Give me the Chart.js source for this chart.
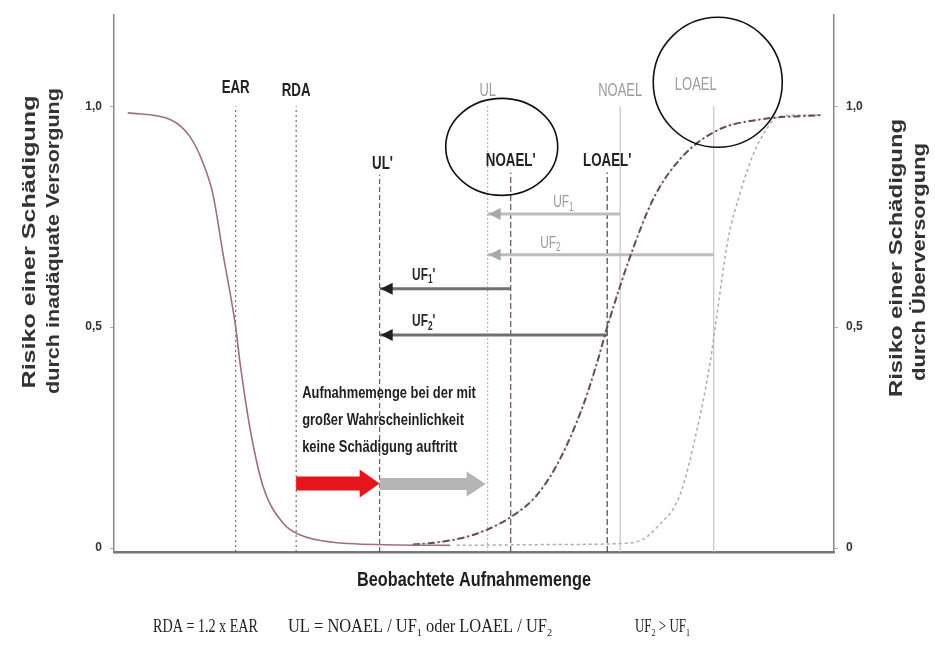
<!DOCTYPE html>
<html>
<head>
<meta charset="utf-8">
<script src="https://cdn.jsdelivr.net/npm/chart.js@4.4.0/dist/chart.umd.min.js"></script>
<style>
html,body{margin:0;padding:0;background:#fff;}
canvas{display:block;}
</style>
</head>
<body>
<canvas id="c" width="935" height="652"></canvas>
<script>
// ---------- DATA ----------
// risk curve for inadequate supply (solid)
const xDeficit    = [1.9, 7.8, 10.6, 12.4, 13.75, 15.1, 16.9, 17.5, 18.9, 20.7, 23.5, 25.8, 30.4, 39.7, 46.7];
const riskDeficit = [0.985, 0.97, 0.93, 0.87, 0.80, 0.67, 0.50, 0.42, 0.27, 0.14, 0.056, 0.03, 0.013, 0.007, 0.006];
// risk curve for oversupply, shifted (dash-dot)
const xAdjusted    = [41.5, 44.5, 47.6, 50.8, 55.1, 58.75, 61.9, 65.1, 67.1, 68.5, 71.7, 74.9, 78.6, 83.75, 89.7, 98.3];
const riskAdjusted = [0.008, 0.012, 0.02, 0.035, 0.07, 0.12, 0.20, 0.32, 0.42, 0.50, 0.66, 0.79, 0.88, 0.945, 0.97, 0.98];
// risk curve for oversupply (light dotted)
const xExcess    = [47.6, 61.9, 69.9, 73.5, 75.4, 78.6, 81.0, 82.8, 83.5, 85.3, 86.9, 88.75, 90.7, 92.1, 95.3, 98.3];
const riskExcess = [0.006, 0.008, 0.01, 0.02, 0.047, 0.12, 0.27, 0.42, 0.50, 0.70, 0.80, 0.89, 0.95, 0.975, 0.98, 0.98];
// reference levels (vertical lines)
const markerNames = ['EAR', 'RDA', "UL'", 'UL', "NOAEL'", "LOAEL'", 'NOAEL', 'LOAEL'];
const markerX     = [16.9, 25.3, 36.9, 51.9, 55.1, 68.5, 70.3, 83.3];
const markerTop   = [1.0, 1.0, 0.845, 1.0, 0.85, 0.85, 1.0, 1.0];
const markerLabelX = [16.9, 25.3, 37.3, 51.9, 55.1, 68.5, 70.3, 80.8];
const markerLabelY = [1.031, 1.022, 0.857, 1.022, 0.865, 0.865, 1.022, 1.036];
// uncertainty factor arrows
const ufNames  = ['UF_1', 'UF_2', "UF_1'", "UF_2'"];
const ufFrom   = [70.3, 83.3, 55.1, 68.5];
const ufTo     = [51.9, 51.9, 36.9, 36.9];
const ufLevel  = [0.756, 0.664, 0.587, 0.482];
const ufLabelX = [61.0, 59.2, 41.4, 41.4];
// y-axis ticks
const yTicks      = [0, 0.5, 1.0];
const yTickLabels = ['0', '0,5', '1,0'];
// band arrows (safe intake range)
const bandLevel = 0.146;
const bandRed   = [25.3, 36.9];
const bandGrey  = [36.9, 51.9];
// texts
const bandText = ['Aufnahmemenge bei der mit', 'großer Wahrscheinlichkeit', 'keine Schädigung auftritt'];
const leftTitle  = ['Risiko einer Schädigung', 'durch inadäquate Versorgung'];
const rightTitle = ['Risiko einer Schädigung', 'durch Überversorgung'];
const xTitle = 'Beobachtete Aufnahmemenge';
const formulas = ['RDA = 1.2 x EAR', 'UL = NOAEL / UF_1 oder LOAEL / UF_2', 'UF_2 > UF_1'];

// ---------- STYLE ----------
const SANS = '"Liberation Sans", Arial, sans-serif';
const SERIF = '"Liberation Serif", "Times New Roman", serif';
const markerStyle = {
  'EAR':    {color:'#555', dash:[2,3], width:1, label:'dark'},
  'RDA':    {color:'#555', dash:[2,3], width:1, label:'dark'},
  "UL'":    {color:'#444', dash:[5,3], width:1, label:'dark'},
  'UL':     {color:'#aaa', dash:[2,2], width:1, label:'grey'},
  "NOAEL'": {color:'#6e4a50', dash:[6,3], width:1.2, label:'dark'},
  "LOAEL'": {color:'#444', dash:[6,3], width:1.2, label:'dark'},
  'NOAEL':  {color:'#bbb', dash:[], width:1, label:'grey'},
  'LOAEL':  {color:'#bbb', dash:[], width:1, label:'grey'}
};
const ufStyle = [
  {line:'#bdbdbd', head:'#a8a8a8', text:'#9a9a9a'},
  {line:'#bdbdbd', head:'#a8a8a8', text:'#9a9a9a'},
  {line:'#707070', head:'#1e1e1e', text:'#2a2a2a'},
  {line:'#707070', head:'#1e1e1e', text:'#2a2a2a'}
];
const circles = [
  {anchor:"NOAEL'", dx:-9, dy:-19, rx:56, ry:48.5},
  {anchor:'LOAEL', dx:22, dy:-8, rx:64.5, ry:65}
];

// ---------- helpers ----------
function parseRich(str){
  const segs=[]; let buf='';
  for(let i=0;i<str.length;i++){
    if(str[i]==='_' && i+1<str.length){ if(buf){segs.push({t:buf});buf='';} segs.push({t:str[i+1],sub:true}); i++; }
    else buf+=str[i];
  }
  if(buf) segs.push({t:buf});
  return segs;
}
function drawRich(ctx, str, x, y, o){
  const size=o.size||14, weight=o.weight||'normal', fam=o.family||SANS;
  const subR = o.subRatio||0.62;
  const segs=parseRich(str);
  ctx.save();
  let total=0;
  segs.forEach(s=>{
    ctx.font = `${weight} ${s.sub?size*subR:size}px ${fam}`;
    s.w = ctx.measureText(s.t).width; total+=s.w;
  });
  const sx = o.width ? o.width/total : (o.sx||1);
  const w = total*sx;
  let x0 = o.align==='center' ? -w/2 : o.align==='right' ? -w : 0;
  ctx.translate(x, y);
  if(o.rotate) ctx.rotate(o.rotate);
  ctx.translate(x0, 0);
  ctx.scale(sx, 1);
  ctx.fillStyle = o.color||'#222';
  ctx.textAlign='left';
  ctx.textBaseline = o.baseline||'alphabetic';
  let cx=0;
  segs.forEach(s=>{
    ctx.font = `${weight} ${s.sub?size*subR:size}px ${fam}`;
    ctx.fillText(s.t, cx, s.sub? size*0.22 : 0);
    cx+=s.w;
  });
  ctx.restore();
  return w;
}
function blockArrow(ctx, x0, x1, yc, shaftH, headH, headL, color){
  ctx.save();
  ctx.fillStyle=color;
  ctx.beginPath();
  ctx.moveTo(x0, yc-shaftH/2);
  ctx.lineTo(x1-headL, yc-shaftH/2);
  ctx.lineTo(x1-headL, yc-headH/2);
  ctx.lineTo(x1, yc);
  ctx.lineTo(x1-headL, yc+headH/2);
  ctx.lineTo(x1-headL, yc+shaftH/2);
  ctx.lineTo(x0, yc+shaftH/2);
  ctx.closePath();
  ctx.fill();
  ctx.restore();
}

// ---------- datasets ----------
const pts = (xs, ys) => xs.map((x,i)=>({x, y:ys[i]}));
const datasets = [
  {label:'deficit', data:pts(xDeficit, riskDeficit), borderColor:'#a0707a', borderWidth:1.6, cubicInterpolationMode:'monotone'},
  {label:'adjusted', data:pts(xAdjusted, riskAdjusted), borderColor:'#5f4f52', borderWidth:2, borderDash:[7,3,2,3], cubicInterpolationMode:'monotone'},
  {label:'adjustedTint', data:pts(xAdjusted, riskAdjusted), borderColor:'rgba(225,110,125,0.55)', borderWidth:1.2, borderDash:[2,2], cubicInterpolationMode:'monotone'},
  {label:'excess', data:pts(xExcess, riskExcess), borderColor:'#ababab', borderWidth:1.5, borderDash:[3,3], cubicInterpolationMode:'monotone'}
];
ufNames.forEach((n,i)=>{
  datasets.push({label:n, data:[{x:ufFrom[i], y:ufLevel[i]},{x:ufTo[i], y:ufLevel[i]}], borderColor:ufStyle[i].line, borderWidth:3, tension:0});
});
markerNames.forEach((n,i)=>{
  const s=markerStyle[n];
  datasets.push({label:n, data:[{x:markerX[i], y:-0.009},{x:markerX[i], y:markerTop[i]}], borderColor:s.color, borderWidth:s.width, borderDash:s.dash, tension:0});
});

// ---------- overlay plugin ----------
const overlay = {
  id:'overlay',
  afterDatasetsDraw(chart){
    const {ctx, scales:{x, y}} = chart;
    // UF arrow heads + labels
    ufNames.forEach((n,i)=>{
      const px=x.getPixelForValue(ufTo[i]), py=y.getPixelForValue(ufLevel[i]);
      ctx.save(); ctx.fillStyle=ufStyle[i].head;
      ctx.beginPath(); ctx.moveTo(px+1,py); ctx.lineTo(px+13,py-6); ctx.lineTo(px+13,py+6); ctx.closePath(); ctx.fill();
      ctx.restore();
      drawRich(ctx, n, x.getPixelForValue(ufLabelX[i]), py-(i<2?7:9), {size:17, weight: i<2?'normal':'bold', color:ufStyle[i].text, sx:0.7, subRatio:0.7});
    });
    // marker labels
    const labelPos={};
    markerNames.forEach((n,i)=>{
      const s=markerStyle[n];
      const px=x.getPixelForValue(markerLabelX[i]), py=y.getPixelForValue(markerLabelY[i]);
      labelPos[n]={x:px,y:py};
      if(s.label==='dark') drawRich(ctx, n, px, py, {size:19, weight:'bold', color:'#222', align:'center', sx:0.7});
      else drawRich(ctx, n, px, py, {size:18, weight:'normal', color:'#9c9c9c', align:'center', sx:0.72});
    });
    // circles
    circles.forEach(c=>{
      const p=labelPos[c.anchor];
      ctx.save(); ctx.strokeStyle='#111'; ctx.lineWidth=1.6;
      ctx.beginPath(); ctx.ellipse(p.x+c.dx, p.y+c.dy, c.rx, c.ry, 0, 0, Math.PI*2); ctx.stroke();
      ctx.restore();
    });
    // band arrows
    const by=y.getPixelForValue(bandLevel);
    blockArrow(ctx, x.getPixelForValue(bandGrey[0]), x.getPixelForValue(bandGrey[1])-2, by+0.5, 12, 25, 19, '#b5b5b5');
    blockArrow(ctx, x.getPixelForValue(bandRed[0]), x.getPixelForValue(bandRed[1]), by, 14, 28, 20, '#e8141c');
    // band text
    const tx=x.getPixelForValue(bandRed[0])+6;
    bandText.forEach((t,i)=>{
      drawRich(ctx, t, tx, by-86+i*27, {size:17, weight:'bold', color:'#222', sx:0.76});
    });
    // axis titles
    const ca=chart.chartArea;
    drawRich(ctx, leftTitle[0], 30, 242, {size:18, weight:'bold', color:'#333', align:'center', width:293, rotate:-Math.PI/2, baseline:'middle'});
    drawRich(ctx, leftTitle[1], 54, 241, {size:18, weight:'bold', color:'#333', align:'center', width:306, rotate:-Math.PI/2, baseline:'middle'});
    drawRich(ctx, rightTitle[0], 897, 258, {size:18, weight:'bold', color:'#333', align:'center', width:278, rotate:-Math.PI/2, baseline:'middle'});
    drawRich(ctx, rightTitle[1], 920, 262, {size:18, weight:'bold', color:'#333', align:'center', width:238, rotate:-Math.PI/2, baseline:'middle'});
    drawRich(ctx, xTitle, (ca.left+ca.right)/2, ca.bottom+34, {size:20, weight:'bold', color:'#1e1e1e', align:'center', width:234});
    // formulas
    drawRich(ctx, formulas[0], 153, 632, {size:18, family:SERIF, color:'#222', width:105});
    drawRich(ctx, formulas[1], 288, 632, {size:18, family:SERIF, color:'#222', width:264});
    drawRich(ctx, formulas[2], 635, 632, {size:18, family:SERIF, color:'#222', width:55});
  }
};

const yScaleBase = (pos, w) => ({
  type:'linear', position:pos, min:-0.009, max:1.206,
  afterBuildTicks(s){ s.ticks = yTicks.map(v=>({value:v})); },
  afterFit(s){ s.width = w; },
  ticks:{ callback:(v)=>{ const i=yTicks.indexOf(v); return i>=0?yTickLabels[i]:''; }, color:'#333', font:{family:SANS, size:12, weight:'bold'}, padding:8 },
  grid:{ drawOnChartArea:false, drawTicks:true, tickLength:4, color:'#aaa' },
  border:{ color:'#888', width:1.5 }
});

new Chart(document.getElementById('c').getContext('2d'), {
  type:'line',
  data:{datasets},
  options:{
    responsive:false, animation:false, devicePixelRatio:1,
    layout:{padding:{top:10, left:0, right:0, bottom:0}},
    plugins:{legend:{display:false}, tooltip:{enabled:false}},
    elements:{point:{radius:0}},
    scales:{
      x:{type:'linear', min:0, max:100, afterFit(s){ s.height=100; },
         ticks:{display:false}, grid:{display:false, drawTicks:false}, border:{color:'#777', width:2.5}},
      y:yScaleBase('left', 114),
      y2:yScaleBase('right', 101)
    }
  },
  plugins:[overlay]
});
</script>
</body>
</html>
